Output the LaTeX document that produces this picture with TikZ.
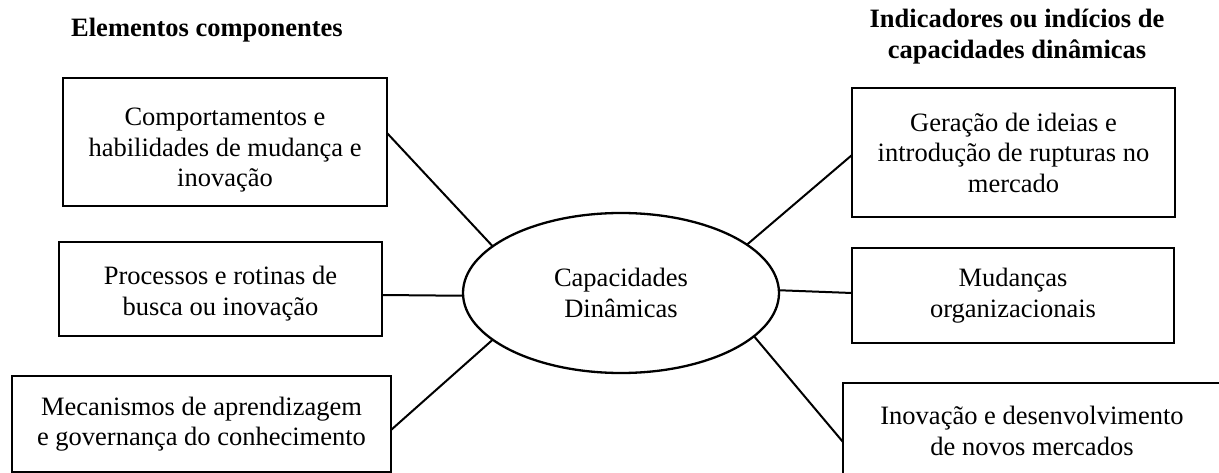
\documentclass[tikz,border=0pt]{standalone}
\usepackage{fontspec}
\setmainfont{Liberation Serif}
\usetikzlibrary{shapes.geometric}
% lines of a box set with the first baseline at a given height above the node centre
\newcommand{\firstlineat}[2]{\raisebox{#1}[0pt][0pt]{\begin{tabular}[t]{@{}c@{}}#2\end{tabular}}}
\begin{document}
\begin{tikzpicture}[x=1pt,y=-1pt,
  every node/.style={font=\fontsize{26.5}{30.5}\selectfont, align=center, inner sep=0pt, outer sep=0pt},
  itembox/.style={draw, line width=2.5pt, rectangle},
  hub/.style={draw, line width=2.3pt, ellipse},
  heading/.style={font=\fontsize{26.5}{31}\selectfont\bfseries},
  link/.style={line width=2pt}]
\useasboundingbox (0,0) rectangle (1219,473);

% column headings
\node[heading] (hl) at (207,30) {Elementos componentes};
\node[heading] (hr) at (1017,37) {Indicadores ou indícios de\\capacidades dinâmicas};

% central ellipse
\node[hub, minimum width=316pt, minimum height=160pt] (cd) at (621,293) {Capacidades\\Dinâmicas};

% component elements (left)
\node[itembox, minimum width=324pt, minimum height=128pt] (b1) at (225,142)
  {\firstlineat{16pt}{Comportamentos e\\habilidades de mudança e\\inovação}};
\node[itembox, minimum width=323pt, minimum height=94pt] (b2) at (220.5,289)
  {\firstlineat{4pt}{Processos e rotinas de\\busca ou inovação}};
\node[itembox, minimum width=379pt, minimum height=96pt] (b3) at (201.5,424)
  {Mecanismos de aprendizagem\\e governança do conhecimento};

% indicators (right)
\node[itembox, minimum width=323pt, minimum height=129pt] (b4) at (1013.5,152.5)
  {Geração de ideias e\\introdução de rupturas no\\mercado};
\node[itembox, minimum width=322pt, minimum height=95pt] (b5) at (1013,295.5)
  {Mudanças\\organizacionais};
\node[itembox, minimum width=378pt, minimum height=96pt] (b6) at (1032,431)
  {Inovação e desenvolvimento\\de novos mercados};

% connectors
\draw[link] ([yshift=9pt]b1.east) -- (cd.160.8);
\draw[link] ([yshift=-6pt]b2.east) -- (cd.181.4);
\draw[link] ([yshift=-6pt]b3.east) -- (cd.200.9);
\draw[link] ([yshift=-2.5pt]b4.west) -- (cd.21.5);
\draw[link] ([yshift=2.5pt]b5.west) -- (cd.1.5);
\draw[link] ([yshift=-11pt]b6.west) -- (cd.-18.8);
\end{tikzpicture}
\end{document}
